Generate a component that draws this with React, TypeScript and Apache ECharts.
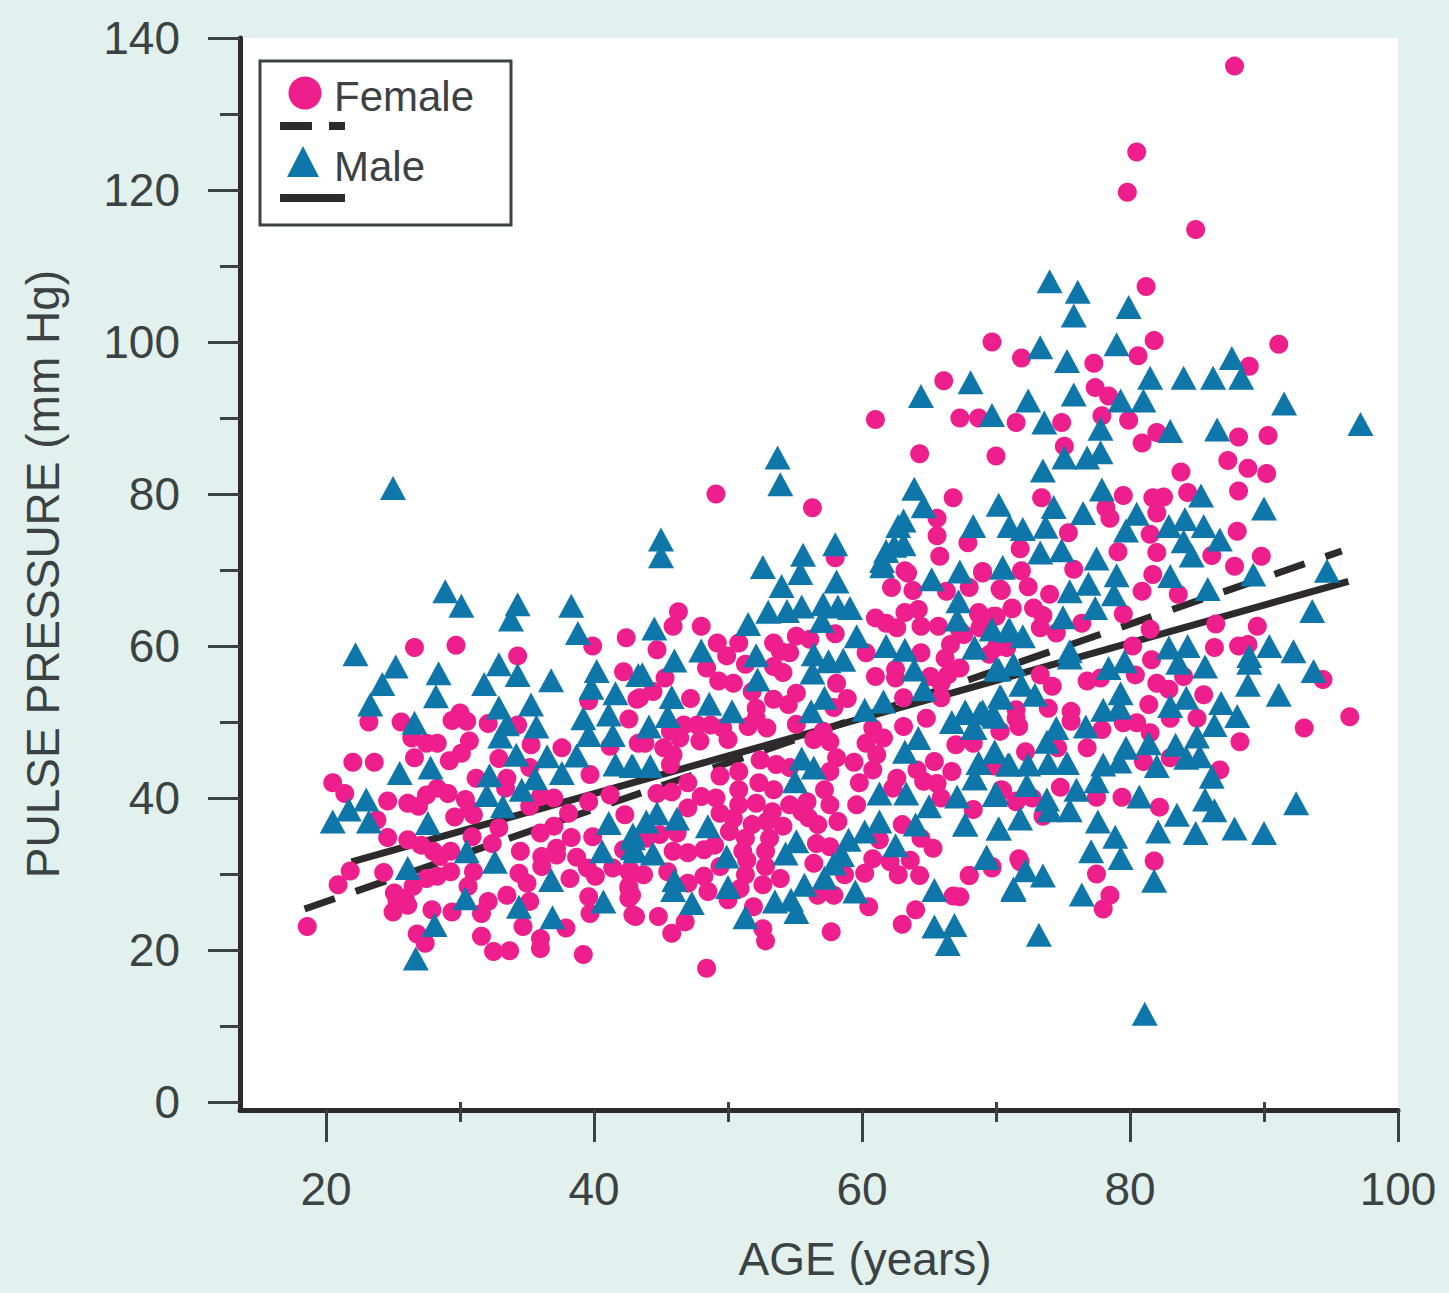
import React, { useEffect, useRef } from "react";
import * as echarts from "echarts";

const xMajorTicks = [20, 40, 60, 80, 100];
const xMinorTicks = [30, 50, 70, 90];
const yMajorTicks = [0, 20, 40, 60, 80, 100, 120, 140];
const yMinorTicks = [10, 30, 50, 70, 90, 110, 130];

const femaleFit = [[18.4, 25.4], [95.8, 72.5]];
const maleFit = [[21.9, 31.6], [96.3, 68.5]];

const femalePoints = [
[18.6,23.1],[26.6,59.8],[29.7,60.1],[34.3,58.7],[39.9,60],[42.4,61.1],[42.2,56.6],[43.2,53],[42.6,50.4],[23.2,50],[25.6,50],[30,51.2],[29.4,50.2],[30.5,50.1],[32.1,49.8],[34.3,49.6],[39.6,52.8],[26.4,47.9],[27.5,47.2],[28.3,47.2],[26.6,45.3],[30.7,47.5],[30.1,45.9],[29.2,44.9],[35.3,47],[37.6,46.6],[32.9,45.2],[41.2,46.8],[43.3,47.2],[22,44.7],[23.6,44.7],[20.5,42],[21.4,40.6],[31.2,42.6],[33.5,42.6],[33.4,41.3],[35.2,44],[39.7,43.1],[24.6,39.6],[26.1,39.3],[26.9,38.9],[27.5,40.4],[28.3,41.3],[29.1,40.6],[30.4,39.8],[30.7,38.5],[29.6,37.5],[31,37.8],[35.2,38.9],[36,40.2],[37,40],[38.1,38],[39.6,39.5],[41.2,40.4],[42.3,37.8],[23.8,37.1],[24.6,34.8],[26.1,34.5],[27.1,33.8],[28,33],[29.3,33],[28.5,32.3],[32.9,36.1],[30.9,34.9],[32.4,34],[36,35.4],[37,36.3],[38.3,34.8],[39.9,34.9],[34.5,33],[36.1,32.3],[37.2,32.5],[38.7,32.2],[36.1,31],[37.2,33.4],[21.8,30.4],[20.9,28.6],[24.3,30.2],[29.3,30.3],[28.3,29.7],[27.5,29.4],[31,30.3],[34.4,30.1],[35,28.8],[38.2,29.4],[40.1,29.7],[39.5,30.8],[41.4,30.8],[42.6,30.3],[26.5,28.4],[25.1,27.5],[25.9,26.8],[25.3,26.4],[26.1,25.9],[30.6,28.4],[42.6,28.4],[42.6,26.8],[33.5,27.2],[35.2,26.4],[39.6,27],[32.1,26.4],[31.6,24.8],[27.9,25.3],[29.4,25],[25,25],[39.7,24.8],[42.9,24.6],[34.7,23.1],[37.9,22.9],[26.8,22.1],[27.4,20.9],[31.6,21.8],[32.5,19.8],[33.7,19.9],[36,21.5],[36,20.2],[39.2,19.4],
[46.3,64.5],[45.9,62.6],[48,62.6],[44.7,59.5],[49.2,60.4],[50.8,60.4],[49.9,58.7],[51.3,57.6],[53.4,60.4],[53.9,59.3],[54.6,59.1],[55.1,61.3],[56.1,60.9],[58,61.6],[48.4,57.1],[53.4,57.3],[54.1,56.5],[49.3,55.4],[50.4,55.1],[51.8,54],[45.3,55.8],[44.4,54],[43.4,53.2],[47.2,53.1],[58.1,55.1],[58.9,53.1],[57.9,51.9],[55.1,53.8],[54.5,52.3],[53.4,53],[52.1,51.8],[55.1,49.7],[52.9,49.2],[51.5,49.4],[52.1,50.5],[45.7,48.8],[46.7,49.6],[47.7,49.6],[48.7,49.6],[49.6,49.2],[47.9,47.5],[46.4,47.9],[50,47.7],[45.2,46.6],[45.9,45.7],[43.8,47.2],[45.7,44.4],[56.4,47.7],[57.1,48.8],[57.6,47.4],[58.1,45.3],[59.4,44.7],[60.8,49.2],[61.6,47.9],[60.3,47.2],[61.1,45.7],[60.8,43.7],[63.1,49.4],[64.8,50.5],[67,47],[68.3,47.2],[52.4,45],[53.6,44.4],[54.6,44],[50.8,43.5],[49.4,42.9],[52.3,42],[53.4,41.1],[50.8,41.1],[47,42],[45.8,40.8],[44.7,40.6],[57.6,43.5],[57.2,41.1],[57.6,39.1],[59.8,42],[59.6,39.1],[62.6,42.6],[62.3,41.3],[64.1,43.7],[65.4,44.8],[66.7,43.5],[64.6,42.2],[65.6,41.9],[65.9,40],[48,40.2],[49.1,40],[47,38.7],[50.8,39.1],[49.4,38],[52.1,39.3],[53.3,38.2],[54.6,39.1],[55.9,39.5],[55.5,38.2],[50.4,37.3],[51.8,36.5],[52.9,36.9],[54.1,36.3],[56.7,36.5],[58.2,36.9],[56,37.4],[68.3,38.5],[63,36.5],[44.9,35.2],[46.2,35.4],[43.9,34.7],[45.9,33],[47,32.8],[48.2,33.2],[49,33.8],[50.1,35.6],[51.3,34.7],[53.1,34.7],[51.1,33],[52.8,33],[56.6,34],[57.6,33.6],[61.3,34.5],[64.4,34.7],[65.3,33.4],[42.2,33.2],[56.4,31.4],[60.8,32],[62.1,31.6],[63.6,31.8],[60.2,30.1],[62.7,29.9],[64.3,29.8],[68,29.8],[69.7,31],[51.4,31.8],[52.8,31],[51.3,29.9],[53.9,29.4],[52.6,28.6],[49.4,31],[42.7,30.5],[43.7,29.9],[42.6,28.1],[42.8,27.2],[45.5,30.3],[48.2,29.7],[47,28.8],[48.5,27.7],[58.7,29.9],[50.9,28.1],[50,26.6],[56.7,27.2],[57.9,27.2],[51.9,25.7],[60.5,25.7],[66.8,27.1],[43.1,24.4],[44.8,24.4],[46.8,23.7],[45.8,22.2],[64,25.3],[63,23.4],[52.6,22.8],[52.8,21.2],[57.7,22.4],[48.4,17.6],
[58,71.6],[65.8,71.8],[67.9,73.6],[63.4,69.6],[62.2,67.7],[63.8,67.3],[66.3,67.2],[68,67.7],[69,69.6],[70.4,67.3],[71.2,65],[61,63.7],[61.8,63],[62.6,62.4],[63.2,64.4],[64.2,64.8],[64.4,62.6],[65.7,62.6],[68.7,64.4],[70,63.9],[68.9,62.8],[67.3,62],[60.3,59.1],[64.4,59.1],[66.6,60.2],[66.2,58.4],[61,56],[62.5,56.9],[62.5,55.8],[67.3,57.1],[66.4,56.2],[65.1,56],[65.9,55.1],[63.1,53.2],[65.9,53.2],[70,59.8],[70.8,59.8],[69.5,58.9],[71.5,50.5],[70.3,48.8],[69.8,44.2],[70.5,41],[71.5,39.5],[71.8,31.6],
[81.2,107.3],[69.7,100],[71.9,97.9],[77.3,97.2],[81.8,100.2],[80.6,98.2],[91.1,99.7],[88.9,96.8],[77.4,94],[78.4,92.9],[67.3,90],[68.7,90],[71.5,89.4],[74.9,89.4],[77.9,90.3],[79.9,89.7],[70,85],[75.1,86.3],[82,88.1],[80.9,86.7],[88.1,87.5],[90.3,87.7],[87.3,84.4],[88.8,83.4],[90.2,82.7],[83.8,82.9],[88.1,80.4],[73.4,79.5],[79.5,79.8],[81.7,79.5],[82.5,79.6],[84.3,80.2],[78.2,78.2],[78.5,76.8],[82,77.5],[75.4,74.9],[81.5,74.7],[88,75.1],[71.8,72.8],[79.1,72.4],[82,72.3],[86.1,71.9],[89.8,71.8],[87.8,70.5],[69,69.8],[71.9,69.9],[75.8,70.1],[81.7,69.4],[70.3,67.5],[72.4,67.8],[74,66.8],[80.9,67.2],[83.6,66.8],[71.2,64.9],[68.7,64.2],[69.8,63.9],[72.8,65],[73.5,64],[79.5,64.2],[73.3,62.4],[74.5,61.7],[76.4,63],[68.8,62.4],[81.5,62.2],[86.4,62.9],[89.5,62.6],[67.6,61.5],[80.2,60],[86.3,59.8],[88.1,60],[88.8,60.2],[81.6,58.2],
[73.3,56.2],[74.2,54.7],[76.8,55.4],[77.8,55.8],[80.4,56.2],[82,55.1],[82.9,54.3],[84,56],[85.5,53.6],[94.4,55.6],[81.4,52.3],[73.9,51.8],[71.5,51.6],[75.6,51.4],[75.6,50.1],[71.7,49.4],[70.3,48.8],[79.5,49.9],[80.5,49.9],[81.5,48.6],[77.9,49],[83,50.5],[85,50.5],[96.4,50.7],[93,49.2],[88.2,47.4],[76.8,46.6],[72.2,46.1],[74.6,46.6],[81,44.8],[83,45.3],[86.7,43.7],[69.8,44.4],[74.8,41.4],[70.4,41.1],[77.5,40.1],[79.4,40.1],[82.2,38.8],[71.5,39.6],[72.7,40],[73.5,37.6],[71.7,32],[69.7,30.8],[68,29.8],[81.8,31.7],[77.5,30],[78.5,27.2],[78,25.4],[67.3,27],
[49.1,80],[56.3,78.2],[61,89.8],[66.1,94.9],[64.3,85.3],[66.8,79.5],[65.6,76.8],[65.6,74.5],[63.2,69.9],[87.8,136.3],[80.5,125],[79.8,119.7],[84.9,114.8]
];

const malePoints = [
[28.9,67.2],[30.1,65.3],[34.3,65.5],[33.8,63.5],[38.3,65.3],[38.8,61.7],[22.2,58.9],[25.2,57.3],[24.2,55],[23.3,52.3],[28.4,56.4],[28.2,53.4],[32.9,57.6],[34.3,56.2],[31.8,55],[36.8,55.5],[40.2,56.7],[39.8,54.5],[41.6,53.8],[43.3,56.2],[32.9,51.9],[35.3,52.3],[35.7,49.4],[39.2,50.5],[41.1,51],[39.6,48.3],[41.4,48.3],[26.6,49.9],[33.5,49.7],[33,48.1],[34.2,45.7],[36.5,45.5],[38.7,45.6],[37.6,43.3],[41.6,44.4],[42.8,44.2],[25.5,43.3],[27.8,44],[32.2,43],[35.6,42.6],[32,40.4],[34.6,41.1],[33.2,38.9],[23,39.8],[21.7,38.5],[20.5,36.9],[23.2,36.9],[27.6,36.7],[41.1,36.7],[42.9,34.7],[30.5,33],[32.6,31.6],[40.6,33],[42.9,33.4],[26.1,30.8],[36.8,29.2],[30.4,26.8],[34.4,25.7],[40.7,26.4],[28.1,23.3],[36.9,24.3],[26.7,18.9],
[45,74],[45,71.8],[52.6,70.4],[55.6,72],[55.4,69.6],[58,73.4],[58.1,68.5],[61.8,72.5],[63.1,73.4],[61.5,70.5],[65.2,68.8],[67.3,69.8],[70.5,70.3],[67.2,65.9],[67.1,63.5],[54,67.9],[53,64.5],[54.4,64.6],[55.5,65.2],[57.1,65.5],[57,63.3],[58.2,65.2],[59.1,65],[51.5,62.9],[44.5,62.3],[48,59.4],[46,58.1],[43.6,56.3],[52.1,58.8],[52.2,55.6],[56.4,58.9],[57.5,58],[58.6,58.2],[56.3,56.5],[59.6,61.3],[61.8,60],[63.2,59.5],[63.9,56.9],[64.6,54.3],[68.4,59.8],[69.7,62.2],[70.9,62],[70.2,56.9],[45.8,53.3],[45.5,50.8],[44.1,49.4],[48.6,52.4],[50.3,51.4],[56.2,51.4],[57.2,53.2],[60.2,51.6],[61.6,52.7],[66.7,50],[67.7,51.4],[69,51.4],[69.9,50.7],[68.4,49.2],[70.4,53.2],[64.2,47.9],[63.2,46.1],[69.9,46.1],[68.7,44.6],[71,44.4],[68.4,42.6],[69.9,40.4],[42.9,44.2],[44.2,44.2],[55.5,45.2],[56.4,44],[55,42.2],[61.3,40.6],[63.3,40.6],[65,38.9],[67.1,40.2],[61.3,36.9],[60.2,35.6],[64,36.5],[67.7,36.5],[70.2,36],[44.7,38],[46.2,37.3],[48.5,36.3],[43.9,36.9],[42.9,35.2],[44.4,32.7],[43.1,33],[55.1,34.3],[54.3,32.7],[59,34.5],[58.5,32.5],[62.5,33.8],[49.9,32.3],[57.9,31.4],[69.3,32.1],[46,29.2],[45.9,27.9],[50,28.3],[55.7,28.6],[57.2,29.5],[59.5,27.7],[65.4,27.9],[71.3,27.9],[47.3,26.2],[53.5,26.4],[54.7,26.6],[55.1,25],[51.3,24.3],[65.4,23.1],[66.9,23.3],[66.4,20.8],
[74,108],[76.1,106.6],[79.9,104.6],[75.8,103.5],[73.3,99.3],[79,99.7],[75.3,97.5],[87.6,97.9],[68.1,94.7],[81.5,95.3],[84,95.3],[86.2,95.3],[88.3,95.3],[72.4,92.3],[75.8,93.1],[79.3,92.3],[81,92.3],[91.5,91.9],[97.2,89.2],[69.7,90.4],[73.6,89.4],[77.8,88.6],[83,88.3],[86.5,88.5],[75.1,84.8],[76.8,84.8],[77.8,85.5],[73.5,83.1],[77.9,80.6],[85.3,79.8],[70.2,78.6],[74.3,78.3],[90,78.1],[80.5,77.4],[76.5,77.5],[68.3,75.8],[71,75.8],[72,75.4],[73.7,75.7],[79.7,75.2],[82.9,75.8],[84.1,76.7],[85.5,75.8],[84,73.8],[86.7,74],[84.6,71.9],[73.3,72.3],[74.9,72.6],[77.5,71.5],[70.5,70.4],[79,69.3],[83,69.2],[89.2,69.4],[94.7,69.9],[76.9,68.2],[75.5,67.2],[78.8,66.8],[85.8,67.5],[77.4,65],[75,63.8],[93.6,64.6],[69.7,62.2],[71,62.2],[72,61.3],[75.5,59.3],[68.4,59.8],[82.9,59.8],[84.3,60],[90.4,60],[92.2,59.3],[88.9,58.7],
[88.9,57.8],[88.8,54.9],[91.1,53.6],[93.7,56.7],[83.6,57.8],[85.6,57.3],[79.6,58],[78.4,57.1],[75.5,58.5],[70,56.9],[71.3,57.6],[71.9,54.9],[72.9,53.6],[70.3,53.4],[79.3,53.8],[78,51.6],[79.2,51.9],[83,52.1],[84.2,53.2],[86.8,52.5],[88,50.8],[86.3,49.6],[67.7,51.2],[68.8,51.2],[69.8,51],[68.3,49.2],[74.5,49.2],[73.8,47.4],[76.7,49.4],[85,48.1],[83.4,47],[81.4,47.2],[79.7,46.6],[69.9,46.1],[68.7,44.6],[70.9,44.4],[72.4,44.4],[73.9,44.6],[75.3,44.6],[78,44.4],[79.2,44.8],[82,44.2],[84.2,45.3],[85.2,45.5],[68.4,42.6],[72.3,41.7],[77.5,42.2],[86.1,42.8],[70,40.6],[76,41.1],[80.7,40.2],[85.6,39.8],[73.8,39.8],[75.5,38.4],[74,38.4],[86.3,38.4],[83.5,37.8],[92.4,39.3],[71.8,37.3],[67.7,36.5],[70.2,36],[77.6,36.9],[78.9,34.9],[82.1,35.6],[84.9,35.4],[87.8,36],[90,35.4],[77.1,33],[79.3,32.1],[69.3,32.3],[72.2,30.5],[73.5,29.8],[71.3,28.1],[81.8,29.1],[76.4,27.3],[73.2,22],[81.1,11.6],
[25,80.8],[53.7,84.8],[53.9,81.3],[64.4,92.9],[63.9,80.7],[64.6,78.4],[63.1,76.5],[62.7,75.8],[62.4,73.2],[61.5,71.2]
];

const PINK = "#ee1f8c";
const BLUE = "#0e76a8";
const INK = "#2d2a2b";
const TEXT = "#3c4244";
const FONT = "'Liberation Sans', Arial, sans-serif";

export default function App() {
  const ref = useRef<HTMLDivElement>(null);
  useEffect(() => {
    document.body.style.margin = "0";
    const chart = echarts.init(ref.current!, undefined, { renderer: "svg" });
    const lineAxis = { show: true, onZero: false, lineStyle: { color: INK, width: 5 } };
    chart.setOption({
      animation: false,
      backgroundColor: "#e2f1ee",
      grid: { left: 240, right: 51, top: 38, bottom: 183, show: true, backgroundColor: "#ffffff", borderWidth: 0 },
      xAxis: [
        {
          type: "value", min: 13.58, max: 100, position: "bottom",
          name: "AGE (years)", nameLocation: "middle", nameGap: 126,
          nameTextStyle: { fontSize: 46, fontFamily: FONT, color: TEXT, padding: [0, 0, 0, 92] },
          axisLine: lineAxis, splitLine: { show: false },
          axisTick: { show: true, length: 32, customValues: xMajorTicks, lineStyle: { color: TEXT, width: 3 } },
          axisLabel: { customValues: xMajorTicks, margin: 56, fontSize: 46, fontFamily: FONT, color: TEXT, hideOverlap: false },
        },
        {
          type: "value", min: 13.58, max: 100, position: "bottom",
          axisLine: { show: false }, splitLine: { show: false },
          axisTick: { show: true, length: 20, customValues: xMinorTicks, lineStyle: { color: TEXT, width: 3 } },
          axisLabel: { show: false },
        },
      ],
      yAxis: [
        {
          type: "value", min: -1.05, max: 140, position: "left",
          name: "PULSE PRESSURE (mm Hg)", nameLocation: "middle", nameGap: 174, nameRotate: 90,
          nameTextStyle: { fontSize: 46, fontFamily: FONT, color: TEXT },
          axisLine: lineAxis, splitLine: { show: false },
          axisTick: { show: true, length: 32, customValues: yMajorTicks, lineStyle: { color: TEXT, width: 3 } },
          axisLabel: { customValues: yMajorTicks, margin: 60, fontSize: 46, fontFamily: FONT, color: TEXT, hideOverlap: false },
        },
        {
          type: "value", min: -1.05, max: 140, position: "left",
          axisLine: { show: false }, splitLine: { show: false },
          axisTick: { show: true, length: 20, customValues: yMinorTicks, lineStyle: { color: TEXT, width: 3 } },
          axisLabel: { show: false },
        },
      ],
      series: [
        { type: "line", name: "Female fit", data: femaleFit, showSymbol: false, z: 1, lineStyle: { color: INK, width: 7, type: [32, 22] } },
        { type: "line", name: "Male fit", data: maleFit, showSymbol: false, z: 1, lineStyle: { color: INK, width: 7 } },
        { type: "scatter", name: "Female", data: femalePoints, symbol: "circle", symbolSize: 19, z: 2, itemStyle: { color: PINK, opacity: 1 } },
        { type: "scatter", name: "Male", data: malePoints, symbol: "triangle", symbolSize: [26, 24], z: 3, itemStyle: { color: BLUE, opacity: 1 } },
      ],
      graphic: [
        { type: "rect", z: 10, shape: { x: 260, y: 61, width: 251, height: 164 }, style: { fill: "#fff", stroke: "#3f4244", lineWidth: 3 } },
        { type: "circle", z: 11, shape: { cx: 305, cy: 93, r: 16.5 }, style: { fill: PINK } },
        { type: "rect", z: 11, shape: { x: 280, y: 122, width: 32, height: 8 }, style: { fill: INK } },
        { type: "rect", z: 11, shape: { x: 329, y: 122, width: 16, height: 8 }, style: { fill: INK } },
        { type: "polygon", z: 11, shape: { points: [[303, 146], [287, 177], [319, 177]] }, style: { fill: BLUE } },
        { type: "rect", z: 11, shape: { x: 280, y: 194, width: 65, height: 8 }, style: { fill: INK } },
        { type: "text", z: 11, x: 334, y: 96, style: { text: "Female", font: `42px ${FONT}`, fill: TEXT, verticalAlign: "middle" } },
        { type: "text", z: 11, x: 334, y: 166, style: { text: "Male", font: `42px ${FONT}`, fill: TEXT, verticalAlign: "middle" } },
      ],
    });
    return () => chart.dispose();
  }, []);
  return <div ref={ref} style={{ width: 1449, height: 1293 }} />;
}
